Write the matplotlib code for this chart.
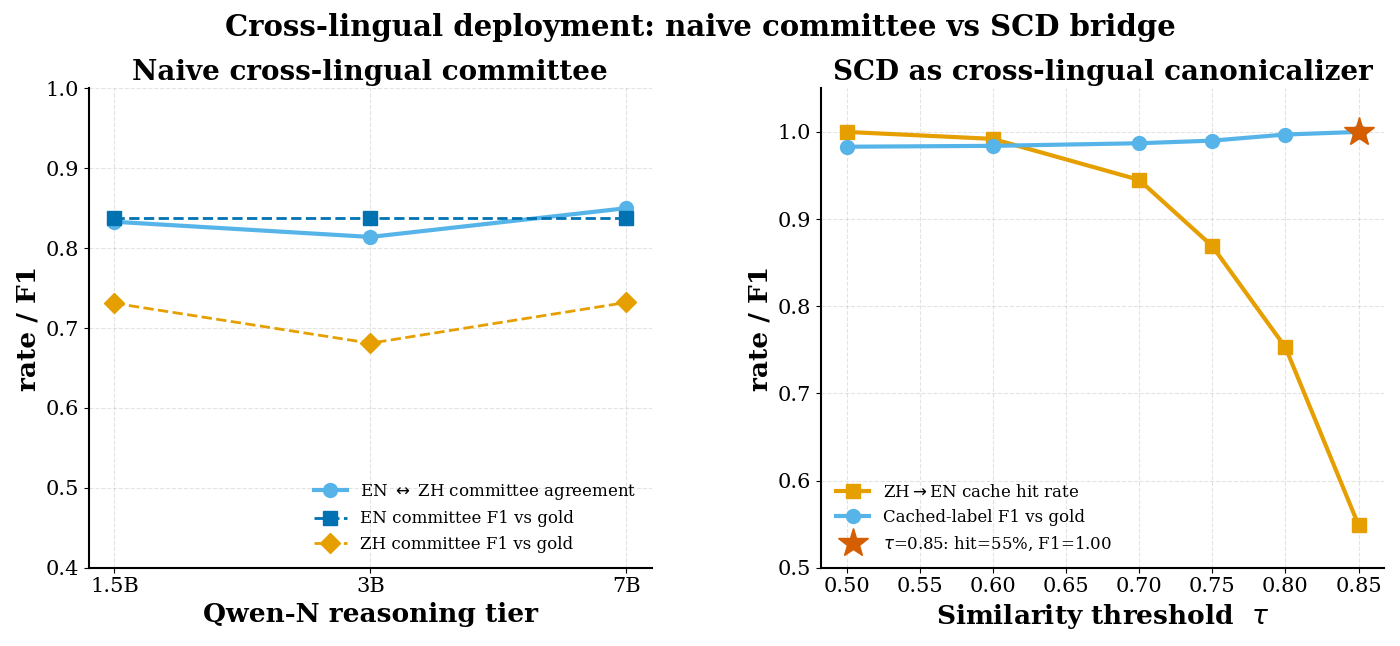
import matplotlib
matplotlib.use("Agg")
import matplotlib.pyplot as plt

tiers = ["1.5B", "3B", "7B"]
agreement = [0.833, 0.814, 0.850]
en_f1 = [0.838, 0.838, 0.838]
zh_f1 = [0.731, 0.681, 0.732]

tau = [0.50, 0.60, 0.70, 0.75, 0.80, 0.85]
hit_rate = [1.000, 0.992, 0.945, 0.869, 0.753, 0.549]
cached_f1 = [0.983, 0.984, 0.987, 0.990, 0.997, 1.000]
star_tau, star_val = 0.85, 1.00

plt.rcParams['font.family'] = ['DejaVu Serif']
fig, (a1, a2) = plt.subplots(1, 2, figsize=(14, 6.46), dpi=100)

x = list(range(len(tiers)))
a1.plot(x, agreement, '-o', color='#56B4E9', lw=3, ms=10, label='EN $\\leftrightarrow$ ZH committee agreement')
a1.plot(x, en_f1, '--s', color='#0072B2', lw=2, ms=10, label='EN committee F1 vs gold')
a1.plot(x, zh_f1, '--D', color='#E69F00', lw=2, ms=10, label='ZH committee F1 vs gold')
a1.set_xticks(x); a1.set_xticklabels(tiers)
a1.set_ylim(0.4, 1.0)
a1.set_title('Naive cross-lingual committee', fontsize=20, fontweight='bold')
a1.set_xlabel('Qwen-N reasoning tier', fontsize=19, fontweight='bold')
a1.set_ylabel('rate / F1', fontsize=19, fontweight='bold')
a1.legend(loc='lower right', frameon=False, fontsize=12)

a2.plot(tau, hit_rate, '-s', color='#E69F00', lw=3, ms=10, label='ZH$\\rightarrow$EN cache hit rate')
a2.plot(tau, cached_f1, '-o', color='#56B4E9', lw=3, ms=10, label='Cached-label F1 vs gold')
a2.plot([star_tau], [star_val], '*', color='#D55E00', ms=22, ls='none', label='$\\tau$=0.85: hit=55%, F1=1.00', zorder=5)
a2.set_xticks(tau + [0.55, 0.65])
a2.set_xticks([0.50, 0.55, 0.60, 0.65, 0.70, 0.75, 0.80, 0.85])
a2.set_ylim(0.5, 1.05)
a2.set_title('SCD as cross-lingual canonicalizer', fontsize=20, fontweight='bold')
a2.set_xlabel('Similarity threshold  $\\tau$', fontsize=19, fontweight='bold')
a2.set_ylabel('rate / F1', fontsize=19, fontweight='bold')
a2.legend(loc='lower left', frameon=False, fontsize=12)

for a in (a1, a2):
    a.grid(True, ls='--', alpha=0.35)
    a.spines['top'].set_visible(False); a.spines['right'].set_visible(False)
    a.spines['left'].set_linewidth(1.5); a.spines['bottom'].set_linewidth(1.5)
    a.tick_params(labelsize=15)

fig.suptitle('Cross-lingual deployment: naive committee vs SCD bridge', fontsize=21, fontweight='bold')
fig.tight_layout(rect=[0, 0, 1, 1])
fig.subplots_adjust(wspace=0.3)
fig.savefig('out.png', dpi=100)
